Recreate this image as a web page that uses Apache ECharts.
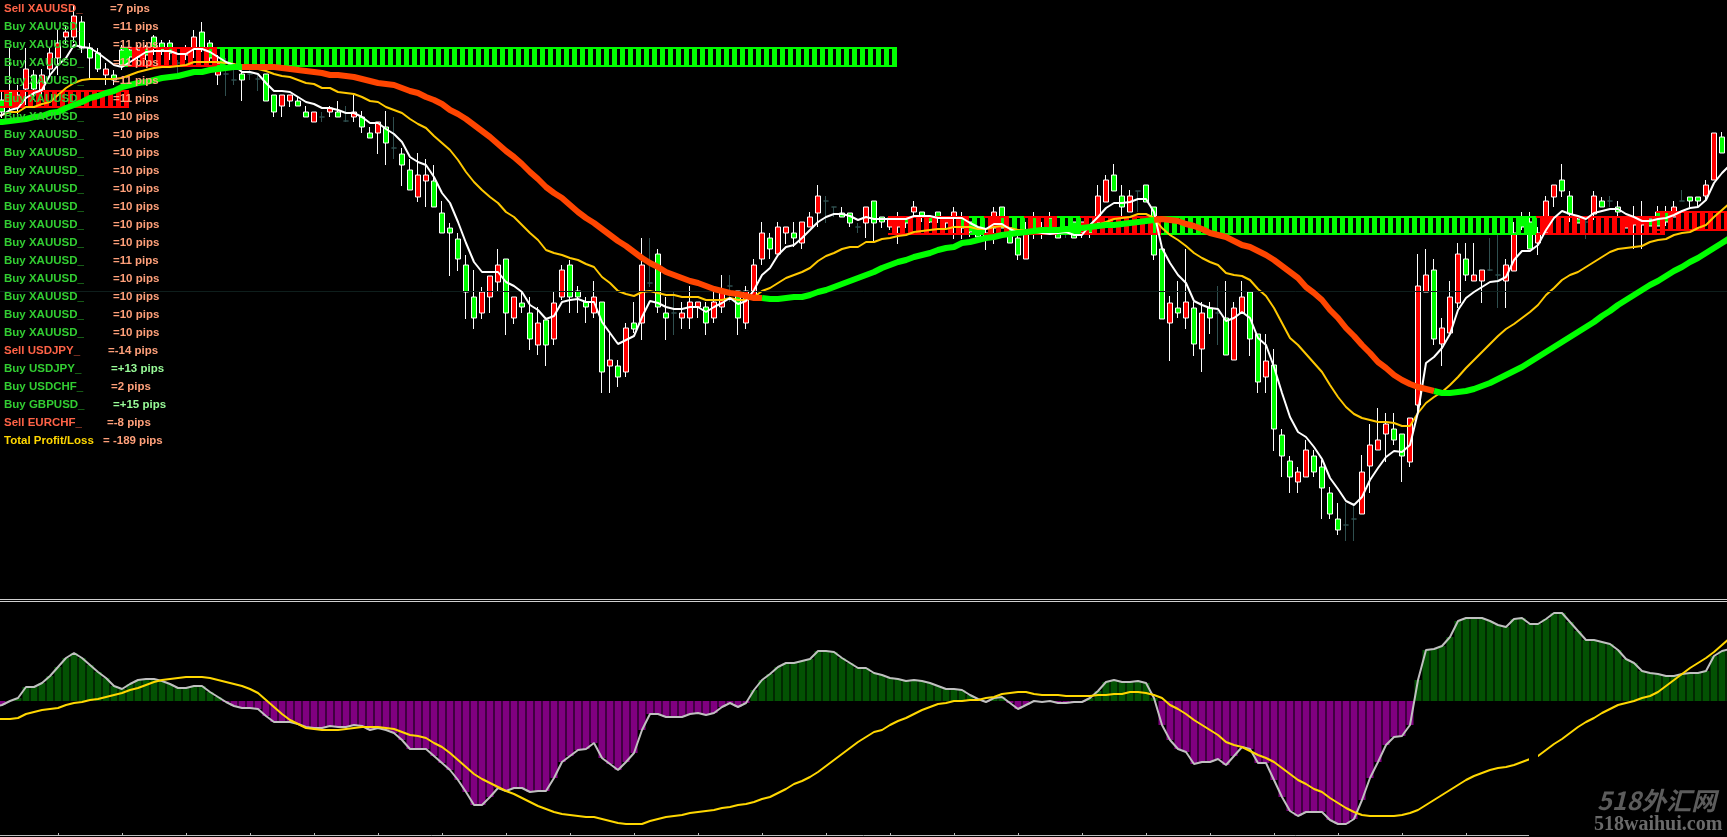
<!DOCTYPE html>
<html><head><meta charset="utf-8">
<script src="https://cdn.jsdelivr.net/npm/echarts@6/dist/echarts.min.js"></script>
<style>html,body{margin:0;padding:0;background:#000}#c{width:1727px;height:837px}</style>
</head><body><div id="c"></div>
<script>
// Price pane: values are levels on an inverted 0-600 scale. Rows: [open, close, wick top, wick bottom]
const candles = [
[112,115,100,120],
[100,112,90,118],[92,107,47,112],[107,95,85,118],[89,69,48,105],[75,89,70,100],[90,75,69,95],[69,53,48,75],[58,43,30,75],
[37,32,25,45],[37,16,5,43],[22,48,16,53],[48,58,43,80],[53,69,48,72],[75,69,63,85],[75,80,70,85],[50,65,45,70],
[50,57,48,62],[57,50,45,65],[47,55,45,60],[37,48,35,55],[43,50,40,55],[43,53,40,60],[63,63,60,75],[55,48,45,60],
[48,37,30,58],[32,48,22,52],[43,58,40,63],[75,63,55,85],[74,74,58,96],[80,80,63,85],[74,80,72,101],[74,74,70,80],
[79,79,74,91],[74,101,74,101],[95,112,95,117],[106,95,95,117],[101,95,95,107],[101,106,97,106],[112,117,106,117],[122,112,112,122],
[117,117,112,122],[112,108,106,117],[112,117,101,117],[121,121,106,122],[117,112,95,122],[117,127,111,133],[133,138,127,138],[133,122,122,154],
[127,143,111,165],[148,148,117,159],[154,165,148,186],[170,190,159,190],[197,175,153,202],[181,175,159,207],[181,207,165,207],[213,233,201,233],
[228,233,223,276],[239,259,233,271],[265,292,255,319],[297,318,270,329],[313,292,287,319],[297,276,276,313],[282,265,249,292],[259,313,259,335],
[318,297,297,324],[303,307,292,313],[313,339,297,350],[345,323,307,355],[320,345,320,366],[339,303,291,345],[297,270,265,300],[265,297,260,313],
[291,297,286,313],[302,307,297,323],[313,297,281,318],[302,372,302,393],[366,360,333,393],[366,377,360,387],[372,328,323,377],[323,329,302,333],
[323,265,238,340],[283,283,238,287],[254,307,249,313],[313,318,297,340],[313,313,291,335],[318,313,302,329],[318,302,286,329],[307,302,302,318],
[307,323,302,335],[318,302,291,323],[307,291,275,313],[286,286,275,302],[291,318,291,335],[323,291,286,329],[297,265,259,297],[259,233,222,265],
[238,249,233,259],[254,227,222,254],[233,227,227,244],[233,238,222,247],[243,222,222,249],[227,217,212,227],[213,196,185,227],[201,201,196,223],
[207,207,207,217],[213,217,207,217],[213,223,213,227],[227,227,223,233],[223,207,207,238],[201,223,201,243],[217,222,217,228],[227,218,218,230],
[227,218,212,244],[218,223,218,228],[212,207,201,217],[212,217,212,222],[217,222,217,223],[212,217,212,223],[223,218,218,228],[217,212,207,239],
[218,228,212,239],[222,232,222,237],[228,237,228,240],[233,237,228,250],[228,212,207,244],[207,228,207,228],[228,243,228,243],[238,255,233,260],
[259,233,222,259],[217,229,212,239],[228,233,222,239],[218,228,212,228],[228,238,228,238],[233,233,227,238],[222,238,222,238],[233,222,222,238],
[228,233,228,238],[223,196,185,223],[202,180,175,202],[175,191,164,191],[196,207,185,217],[212,196,190,212],[191,191,191,212],[185,202,185,202],
[207,255,207,260],[249,319,249,319],[323,303,296,361],[308,313,281,318],[318,302,249,329],[308,344,302,356],[349,313,302,372],[308,318,302,334],
[313,313,286,345],[318,355,281,355],[360,308,302,360],[313,297,281,313],[292,339,292,356],[334,382,334,393],[377,361,334,393],[365,429,349,451],
[435,456,429,477],[461,477,456,493],[482,472,467,493],[477,450,440,477],[456,472,450,477],[467,488,460,519],[493,514,487,519],[519,530,503,535],
[525,525,503,541],[519,519,503,541],[514,472,455,514],[466,445,424,493],[450,440,408,450],[434,424,413,462],[429,440,413,445],[434,456,434,482],
[462,418,418,467],[405,286,254,415],[292,275,249,292],[270,339,259,345],[344,328,318,366],[333,297,281,333],[303,254,243,308],[259,275,243,281],
[281,275,243,281],[281,270,270,303],[270,270,238,271],[275,275,235,308],[281,265,259,308],[271,233,222,271],[217,227,212,230],[222,249,212,249],
[243,233,227,255],[233,201,196,233],[197,185,185,207],[180,191,164,197],[196,214,191,222],[219,223,217,223],[222,222,217,239],[214,196,191,220],
[201,207,197,207],[201,201,196,207],[207,212,201,218],[228,217,217,228],[225,217,206,249],[225,217,201,249],[219,226,219,226],[212,226,206,226],
[212,222,206,226],[217,207,201,217],[201,201,190,201],[197,201,197,207],[197,201,197,207],[196,185,180,201],[180,133,133,180],[137,153,132,153],
[137,140,130,150]
];
const fastMA = [118,
115,110,108,98,93,90,75,65,58,45,47,48,53,59,65,67,62,57,52,51,51,51,54,54,49,49,52,57,62,65,
72,72,74,83,91,91,92,97,102,104,108,108,110,113,113,117,123,123,129,134,142,157,162,165,177,193,203,222,243,262,
272,272,272,282,286,292,305,310,319,316,302,300,299,302,302,322,333,344,340,336,317,301,303,307,309,309,307,307,312,307,
303,298,304,301,290,275,268,255,247,245,238,230,222,217,214,214,216,220,217,219,219,219,219,219,216,216,216,218,218,218,
218,223,227,229,224,224,229,233,232,232,233,234,233,232,235,235,225,217,208,203,203,202,199,199,212,248,263,275,283,301,
305,308,309,321,318,312,318,338,345,367,393,417,432,437,447,459,478,489,501,505,497,480,468,457,451,452,445,412,363,357,
348,334,310,298,292,287,282,281,277,260,251,251,245,230,218,211,214,216,219,213,211,209,209,214,217,221,221,219,218,215,
211,208,207,200,183,173,165
];
const slowMA = [116,
115,112,112,107,107,104,102,95,88,83,80,79,79,79,79,78,75,72,70,68,67,67,66,65,62,62,62,62,63,64,
67,68,69,71,74,76,77,80,83,84,88,88,92,93,94,97,101,102,107,110,113,119,124,128,136,143,150,160,172,182,
190,197,203,212,217,225,233,240,250,253,255,258,260,264,267,277,283,291,294,296,292,291,293,295,295,297,297,297,300,300,
300,298,300,300,297,291,288,283,278,275,272,268,261,256,253,249,247,247,242,242,239,238,236,235,232,231,230,229,229,227,
227,227,229,229,227,226,228,230,230,230,230,230,230,230,230,229,227,225,222,219,218,217,214,214,218,228,235,240,246,253,
258,262,265,273,275,276,280,289,296,308,323,338,345,354,363,372,385,397,407,414,418,420,422,422,423,426,426,413,403,397,
392,385,377,368,360,352,344,336,329,324,318,312,305,295,288,280,275,272,267,262,257,252,249,248,247,246,242,240,239,235,
233,232,228,225,217,210,203
];
const trendMA = [122,
122,121,120,119,117,116,113,112,108,105,102,98,96,93,91,87,85,83,82,80,78,77,76,74,72,72,70,69,68,67,
67,67,67,67,67,68,69,70,71,72,73,75,75,76,77,79,81,83,84,85,88,91,93,97,100,104,110,114,119,125,
131,137,144,151,157,164,172,179,187,193,198,205,212,218,223,229,235,241,246,252,258,263,267,272,275,278,281,283,286,289,
291,293,294,296,298,298,299,299,298,297,297,295,292,290,287,284,281,278,275,272,268,265,262,260,257,255,253,250,248,247,
243,242,240,238,237,235,234,233,232,231,230,230,230,229,229,228,227,226,225,225,224,223,222,221,220,219,220,221,224,226,
229,233,235,237,241,245,247,251,255,260,266,272,278,287,293,300,310,318,328,336,345,353,362,368,375,380,384,387,389,391,
393,393,392,391,389,386,383,379,375,371,367,362,357,352,347,342,337,332,327,322,316,311,305,300,295,290,285,281,276,271,
267,262,258,253,248,243,238
];
// Index ranges of the rising (green) and falling (orange) phases of the thick average
const trendOrangeRanges = [[31,96],[145,180]];
const trendGreenRanges = [[0,31],[96,145],[180,217]];
// Signal zones: [first bar, last bar, upper level, lower level, 1 = green / 0 = red]
const zones = [
[1,16,90,108,0],[16,112,47,67,1],[17,27,47,67,0],
[122,192,216,235,1],[112,121,216,235,0],[124,126,216,235,0],[129,132,216,235,0],[136,145,216,235,0],
[193,208,216,235,0],[208,217,211,231,0]
];
// Oscillator pane
const histogram = [-6,
-4,0,3,14,14,18,25,34,43,48,43,36,29,23,15,12,17,21,22,22,20,17,13,13,15,15,9,4,-1,-5,
-7,-7,-8,-15,-21,-21,-21,-23,-26,-27,-27,-25,-26,-26,-24,-25,-29,-27,-29,-32,-39,-48,-48,-48,-55,-62,-69,-79,-91,-104,
-104,-96,-87,-90,-87,-87,-91,-90,-90,-77,-61,-55,-49,-48,-42,-57,-63,-69,-61,-52,-29,-13,-13,-16,-16,-16,-13,-12,-14,-12,
-6,-2,-6,-2,11,21,27,34,38,38,40,42,50,50,49,43,38,33,33,28,26,23,22,20,21,20,18,15,12,12,
11,6,2,-1,3,4,-2,-8,-4,0,-1,0,-2,-2,-1,-1,3,10,19,21,19,19,20,18,3,-24,-39,-48,-51,-63,
-61,-61,-58,-64,-55,-46,-48,-62,-62,-79,-96,-110,-115,-111,-111,-111,-119,-123,-123,-118,-99,-77,-61,-44,-36,-35,-24,21,51,52,
55,64,80,83,83,83,80,76,74,82,83,77,77,82,88,88,79,70,61,61,59,57,51,42,38,30,28,27,25,25,
27,28,28,30,45,50,52
];
const signal = [-18,
-18,-18,-17,-13,-11,-9,-8,-7,-4,-2,-1,1,2,4,6,8,11,13,16,19,21,22,23,24,24,24,23,21,19,17,
15,12,8,1,-6,-13,-19,-23,-27,-28,-29,-29,-29,-28,-27,-26,-26,-26,-27,-28,-31,-34,-35,-37,-42,-46,-52,-59,-66,-73,
-78,-82,-86,-90,-93,-97,-101,-105,-108,-111,-113,-114,-115,-116,-116,-118,-120,-122,-123,-123,-123,-120,-118,-116,-115,-114,-112,-111,-110,-109,
-107,-106,-104,-103,-101,-98,-96,-92,-88,-83,-80,-76,-71,-65,-59,-53,-47,-41,-36,-31,-29,-24,-20,-17,-13,-9,-6,-3,-2,0,
0,1,1,3,4,7,8,9,9,7,6,6,6,5,5,5,5,6,6,7,7,9,9,8,6,3,-4,-8,-13,-19,
-24,-29,-34,-41,-44,-46,-50,-54,-57,-61,-67,-73,-79,-83,-88,-91,-97,-102,-107,-111,-114,-115,-115,-115,-115,-114,-112,-109,-104,-99,
-94,-89,-84,-79,-75,-72,-69,-67,-66,-64,-61,-58,-55,-49,-43,-38,-32,-26,-21,-17,-12,-8,-4,-2,0,3,5,9,15,21,
27,33,38,43,49,56,63
];
const barIndex = candles.map((_, i) => i);
// Trade panel text
const tradeLabels = ['Sell XAUUSD_','Buy XAUUSD_','Buy XAUUSD_','Buy XAUUSD_','Buy XAUUSD_','Buy XAUUSD_','Buy XAUUSD_','Buy XAUUSD_','Buy XAUUSD_','Buy XAUUSD_','Buy XAUUSD_','Buy XAUUSD_','Buy XAUUSD_','Buy XAUUSD_','Buy XAUUSD_','Buy XAUUSD_','Buy XAUUSD_','Buy XAUUSD_','Buy XAUUSD_','Sell USDJPY_','Buy USDJPY_','Buy USDCHF_','Buy GBPUSD_','Sell EURCHF_','Total Profit/Loss'];
const tradeValues = ['=7 pips','=11 pips','=11 pips','=11 pips','=11 pips','=11 pips','=10 pips','=10 pips','=10 pips','=10 pips','=10 pips','=10 pips','=10 pips','=10 pips','=11 pips','=10 pips','=10 pips','=10 pips','=10 pips','=-14 pips','=+13 pips','=2 pips','=+15 pips','=-8 pips','= -189 pips'];
const valueLeft = [110,113,113,113,113,113,113,113,113,113,113,113,113,113,113,113,113,113,113,108,111,111,113,107,103];

const GREEN='#00FF00', RED='#FF0000';
const inRanges = (i, ranges) => ranges.some(r => i >= r[0] && i <= r[1]);
const zoneRows = [];
zones.forEach(z => { for (let k = z[0]; k <= z[1]; k++) zoneRows.push([k, z[2], z[3], z[4]]); });

const renderZone = (params, api) => {
  const k = api.value(0);
  const a = api.coord([k, api.value(1)]), b = api.coord([k, api.value(2)]);
  const fill = api.value(3) === 1 ? GREEN : RED;
  const cx = Math.round(a[0]);
  return { type:'group', children:[
    {type:'rect', shape:{x:cx+2, y:a[1], width:5, height:b[1]-a[1]}, style:{fill}},
    {type:'rect', shape:{x:cx-2, y:a[1], width:8, height:2}, style:{fill}},
    {type:'rect', shape:{x:cx-2, y:b[1]-2, width:8, height:2}, style:{fill}}
  ]};
};
const lineSeries = (name, data, color, width, z, xi) => ({
  name, type:'line', data, xAxisIndex:xi, yAxisIndex:xi, symbol:'none', z,
  lineStyle:{color, width}, itemStyle:{color}, silent:true, connectNulls:false
});

const graphic = [
  {type:'rect', z:90, shape:{x:0,y:599,width:1727,height:1}, style:{fill:'#D0D0D0'}},
  {type:'rect', z:90, shape:{x:0,y:601,width:1727,height:1}, style:{fill:'#D0D0D0'}},
  {type:'rect', z:90, shape:{x:1529,y:832,width:198,height:5}, style:{fill:'#000'}},
  {type:'rect', z:90, shape:{x:1529,y:754,width:9,height:8}, style:{fill:'#000'}},
  {type:'text', z:95, x:1597, y:788, style:{text:'518外汇网', fill:'#5c5c5c', font:'italic bold 25px "Noto Sans CJK SC"'}},
  {type:'text', z:95, x:1594, y:815, style:{text:'518waihui.com', fill:'#6a6a6a', font:'bold 20px "Liberation Serif"'}}
];
tradeLabels.forEach((t, i) => {
  const isTotal = t.startsWith('Total'), isSell = t.startsWith('Sell');
  const labelColor = isTotal ? '#FFD700' : isSell ? '#FF6347' : '#32CD32';
  const valueColor = tradeValues[i].includes('+') ? '#98FB98' : '#FFA07A';
  const y = 9 + 18 * i;
  graphic.push({type:'text', z:100, x:4, y, style:{text:t, fill:labelColor, font:'bold 11.5px "Liberation Sans"', verticalAlign:'middle'}});
  graphic.push({type:'text', z:100, x:valueLeft[i], y, style:{text:tradeValues[i], fill:valueColor, font:'bold 11.5px "Liberation Sans"', verticalAlign:'middle'}});
});

const chart = echarts.init(document.getElementById('c'), null, {renderer:'canvas'});
chart.setOption({
  animation:false, backgroundColor:'#000',
  grid:[
    {left:-10, top:0, width:1744, height:600, containLabel:false, outerBoundsMode:'none'},
    {left:-10, top:602, width:1744, height:233, containLabel:false, outerBoundsMode:'none'}
  ],
  xAxis:[
    {type:'category', gridIndex:0, data:barIndex, show:false},
    {type:'category', gridIndex:1, data:barIndex, axisLabel:{show:false},
     axisLine:{show:true, onZero:false, lineStyle:{color:'#C0C0C0', width:1}},
     axisTick:{show:true, inside:true, length:2, alignWithLabel:true, interval:(i)=>i%8===0, lineStyle:{color:'#C0C0C0'}}}
  ],
  yAxis:[
    {type:'value', gridIndex:0, inverse:true, min:0, max:600, show:false, splitLine:{show:false}},
    {type:'value', gridIndex:1, min:-134, max:99, show:false, splitLine:{show:false}}
  ],
  graphic,
  series:[
    {type:'candlestick', name:'Price', data:candles, xAxisIndex:0, yAxisIndex:0, z:2, barWidth:5, silent:true,
     itemStyle:{color:GREEN, color0:RED, borderColor:'#FFFFFF', borderColor0:'#FFFFFF', borderColorDoji:'#2F4F4F', borderWidth:1},
     markLine:{silent:true, symbol:'none', animation:false, label:{show:false}, lineStyle:{color:'#0E1E1C', width:1, type:'solid'}, data:[{yAxis:291}]}},
    {type:'custom', name:'Zones', data:zoneRows, xAxisIndex:0, yAxisIndex:0, z:3, silent:true, renderItem:renderZone, encode:{x:0, y:[1,2]}},
    lineSeries('Slow MA', slowMA, '#FFC800', 2, 4, 0),
    lineSeries('Fast MA', fastMA, '#FFFFFF', 2, 5, 0),
    lineSeries('Trend falling', trendMA.map((v,i)=>inRanges(i,trendOrangeRanges)?v:null), '#FF4500', 6, 6, 0),
    lineSeries('Trend rising', trendMA.map((v,i)=>inRanges(i,trendGreenRanges)?v:null), GREEN, 6, 6, 0),
    {type:'bar', name:'Histogram', data:histogram.map(v=>({value:v, itemStyle:{color:v>=0?'#035203':'#800080'}})), xAxisIndex:1, yAxisIndex:1, barWidth:7, z:2, silent:true},
    lineSeries('MACD', histogram, '#C0C0C0', 2, 3, 1),
    lineSeries('Signal', signal, '#FFD700', 2, 4, 1)
  ]
});
</script></body></html>
